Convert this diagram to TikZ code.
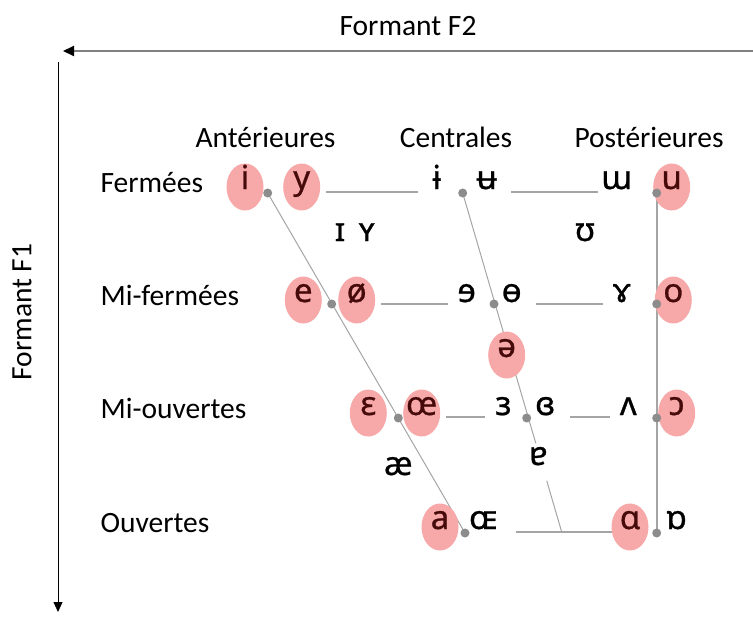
\documentclass[tikz,border=0pt]{standalone}
\usepackage{fontspec}
\setmainfont{Carlito}
\newfontfamily\ipafont[FakeBold=0.8]{Noto Sans}
\usetikzlibrary{shapes.geometric,backgrounds,arrows.meta}

\definecolor{vowelPink}{RGB}{247,168,168}
\definecolor{vowelInk}{RGB}{70,10,10}
\definecolor{lineGray}{RGB}{165,165,165}
\definecolor{dotGray}{RGB}{140,140,140}
\definecolor{axisGray}{RGB}{128,128,128}

\def \rowAY{187}
\def \rowBY{300}
\def \rowCY{413}
\def \rowDY{527}
\def \dotAY{193}
\def \dotBY{304}
\def \dotCY{418}
\def \dotDY{533}
\def \backX{656.7}

\tikzset{
  vowel/.style = {ellipse, minimum width=37pt, minimum height=47pt, inner ysep=0pt, inner xsep=-6pt,
    text height=0.5em, text depth=0.1em, font=\ipafont\fontsize{33}{33}\selectfont},
  roundv/.style = {vowel, fill=vowelPink, text=vowelInk},
  plainv/.style = {vowel},
  vdot/.style = {circle, fill=dotGray, inner sep=0pt, minimum size=9pt},
  rowtext/.style = {anchor=base west, font=\fontsize{29.5}{31}\selectfont},
  coltext/.style = {anchor=base, font=\fontsize{29.5}{31}\selectfont},
  link/.style = {draw=lineGray, line width=1.6pt, shorten <=6pt},
  slant/.style = {draw=lineGray, line width=1pt},
}

\begin{document}
\begin{tikzpicture}[x=1pt, y=-1pt]
\useasboundingbox (0,0) rectangle (753,619);

% ---- Axes
\coordinate (f2start) at (753,51);
\coordinate (f2end) at (63,51);
\coordinate (f1start) at (58,62);
\coordinate (f1end) at (58,612);
\draw [axisGray, line width=2pt, -{Triangle[color=black, length=11pt, width=10pt]}] (f2start) -- (f2end);
\draw [black, line width=0.8pt, -{Triangle[length=10pt, width=9pt]}] (f1start) -- (f1end);
\node [coltext] (f2) at (408,35) {Formant F2};
\node [font=\fontsize{29.5}{31}\selectfont, rotate=90] (f1) at (22,312) {Formant F1};

% ---- Column and row titles
\node [coltext] (ant) at (265.5,147) {Antérieures};
\node [coltext] (cen) at (456,147) {Centrales};
\node [coltext] (post) at (649,147) {Postérieures};
\node [rowtext] (ferm) at (97,192) {Fermées};
\node [rowtext] (mferm) at (97,305) {Mi-fermées};
\node [rowtext] (mouv) at (97,418) {Mi-ouvertes};
\node [rowtext] (ouv) at (97,532) {Ouvertes};

% ---- Fermées
\node [roundv] (i) at (245,\rowAY) {i};
\node [roundv] (y) at (301.7,\rowAY) {y};
\node [plainv] (ibar) at (436.7,\rowAY) {ɨ};
\node [plainv] (ubar) at (486.7,\rowAY) {ʉ};
\node [plainv] (mw) at (616.7,\rowAY) {ɯ};
\node [roundv] (u) at (671.7,\rowAY) {u};
\node [vdot] (dA1) at (267.7,\dotAY) {};
\node [vdot] (dA2) at (462.7,\dotAY) {};
\node [vdot] (dA3) at (\backX,\dotAY) {};

% ---- Quasi fermées
\node [plainv] (smi) at (340,239) {ɪ};
\node [plainv] (smy) at (366.7,239) {ʏ};
\node [plainv] (ups) at (585,239) {ʊ};

% ---- Mi-fermées
\node [roundv] (e) at (303.3,\rowBY) {e};
\node [roundv] (oslash) at (356.7,\rowBY) {ø};
\node [plainv] (revE) at (466.7,\rowBY) {ɘ};
\node [plainv] (obar) at (511.7,\rowBY) {ɵ};
\node [plainv] (rams) at (621.7,\rowBY) {ɤ};
\node [roundv] (o) at (673.3,\rowBY) {o};
\node [vdot] (dB1) at (331.7,\dotBY) {};
\node [vdot] (dB2) at (494,\dotBY) {};
\node [vdot] (dB3) at (\backX,\dotBY) {};

% ---- Schwa
\node [roundv] (schwa) at (506.7,355) {ə};

% ---- Mi-ouvertes
\node [roundv] (eps) at (368.3,\rowCY) {ɛ};
\node [roundv] (oe) at (421.7,\rowCY) {œ};
\node [plainv] (revEps) at (503.3,\rowCY) {ɜ};
\node [plainv] (clEps) at (545,\rowCY) {ɞ};
\node [plainv] (wedge) at (628.3,\rowCY) {ʌ};
\node [roundv] (openo) at (676.7,\rowCY) {ɔ};
\node [vdot] (dC1) at (398.3,\dotCY) {};
\node [vdot] (dC2) at (526.7,\dotCY) {};
\node [vdot] (dC3) at (\backX,\dotCY) {};

% ---- Quasi ouvertes
\node [plainv] (ash) at (398.3,473) {æ};
\node [plainv, fill=white, minimum height=40pt] (turna) at (538.3,463) {ɐ};

% ---- Ouvertes
\node [roundv] (a) at (440,\rowDY) {a};
\node [plainv] (OE) at (483.3,\rowDY) {ɶ};
\node [roundv] (alpha) at (630,\rowDY) {ɑ};
\node [plainv] (turnalpha) at (676.7,\rowDY) {ɒ};
\node [vdot] (dD1) at (465,\dotDY) {};
\node [vdot] (dD3) at (\backX,\dotDY) {};
\coordinate (cbottom) at (561.7,532);

% ---- Lines
\begin{scope}[on background layer]
\draw [link] ([yshift=-5pt]y.east) -- ([yshift=-5pt]ibar.west);
\draw [link] ([yshift=-5pt]ubar.east) -- ([yshift=-5pt]mw.west);
\draw [link] ([yshift=-4pt]oslash.east) -- ([yshift=-4pt]revE.west);
\draw [link] ([yshift=-4pt]obar.east) -- ([yshift=-4pt]rams.west);
\draw [link] ([yshift=-4pt]oe.east) -- ([yshift=-4pt]revEps.west);
\draw [link] ([yshift=-4pt]clEps.east) -- ([yshift=-4pt]wedge.west);
\draw [link, shorten <=14pt] ([yshift=-5pt]OE.east) -- ([yshift=-5pt]alpha.center);
\draw [slant] (dA1.center) -- (dD1.center);
\draw [slant] (dA2.center) -- (cbottom);
\draw [draw=lineGray, line width=2pt] (dA3.center) -- (dD3.center);
\end{scope}
\end{tikzpicture}
\end{document}
